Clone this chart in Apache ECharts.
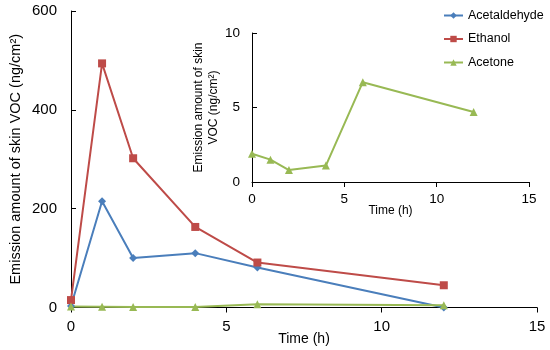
<!DOCTYPE html>
<html>
<head>
<meta charset="utf-8">
<script src="https://cdn.jsdelivr.net/npm/echarts@6/dist/echarts.min.js"></script>
<style>html,body{margin:0;padding:0;background:#fff}#c{width:550px;height:350px}</style>
</head>
<body>
<div id="c"></div>
<script>
var times = [0, 1, 2, 4, 6, 12];
var acetaldehyde = [3, 215, 100, 110, 81, 0];
var ethanol = [15, 494, 302, 163, 91, 45];
var acetone = [1.9, 1.5, 0.8, 1.1, 6.7, 4.7];
var seriesNames = ['Acetaldehyde', 'Ethanol', 'Acetone'];
var colors = ['#4A7EBB', '#BE4B48', '#98B954'];
var yName = 'Emission amount of skin VOC (ng/cm\u00B2)';
var yNameInset = 'Emission amount of skin\nVOC (ng/cm\u00B2)';
var xName = 'Time (h)';

function pairs(xs, ys) { return xs.map(function (x, i) { return [x, ys[i]]; }); }

var font = 'Arial, "Liberation Sans", sans-serif';
var axisLine = { show: true, lineStyle: { color: '#000', width: 1 } };

var chart = echarts.init(document.getElementById('c'));
chart.setOption({
  animation: false,
  textStyle: { fontFamily: font, color: '#000' },
  legend: {
    orient: 'vertical', left: 443, top: 9, padding: 0, itemWidth: 19, itemHeight: 8, itemGap: 10.5,
    textStyle: { fontSize: 12.5, color: '#000', fontFamily: font },
    data: seriesNames
  },
  grid: [
    { left: 71, right: 13, top: 11, bottom: 42.5, outerBoundsMode: 'none', containLabel: false },
    { left: 252, right: 21, top: 33, bottom: 168, outerBoundsMode: 'none', containLabel: false }
  ],
  xAxis: [
    { type: 'value', gridIndex: 0, min: 0, max: 15, interval: 5,
      name: xName, nameLocation: 'middle', nameGap: 25, nameMoveOverlap: false,
      nameTextStyle: { fontSize: 14, color: '#000' },
      axisLine: axisLine, axisTick: { show: true, length: 5, lineStyle: { color: '#000' } },
      axisLabel: { fontSize: 15, color: '#000', margin: 12 }, splitLine: { show: false } },
    { type: 'value', gridIndex: 1, min: 0, max: 15, interval: 5,
      name: xName, nameLocation: 'middle', nameGap: 23, nameMoveOverlap: false,
      nameTextStyle: { fontSize: 12, color: '#000' },
      axisLine: axisLine, axisTick: { show: true, length: 5, lineStyle: { color: '#000' } },
      axisLabel: { fontSize: 13.5, color: '#000', margin: 10 }, splitLine: { show: false } }
  ],
  yAxis: [
    { type: 'value', gridIndex: 0, min: 0, max: 600, interval: 200,
      name: yName, nameLocation: 'middle', nameGap: 48, nameMoveOverlap: false,
      nameTextStyle: { fontSize: 14.5, color: '#000' },
      axisLine: axisLine, axisTick: { show: true, inside: true, length: 5, lineStyle: { color: '#000' } },
      axisLabel: { fontSize: 15, color: '#000', margin: 14 }, splitLine: { show: false } },
    { type: 'value', gridIndex: 1, min: 0, max: 10, interval: 5,
      name: yNameInset, nameLocation: 'middle', nameGap: 31, nameMoveOverlap: false,
      nameTextStyle: { fontSize: 12, color: '#000', lineHeight: 15 },
      axisLine: axisLine, axisTick: { show: true, inside: true, length: 5, lineStyle: { color: '#000' } },
      axisLabel: { fontSize: 13.5, color: '#000', margin: 12 }, splitLine: { show: false } }
  ],
  series: [
    { name: seriesNames[0], type: 'line', xAxisIndex: 0, yAxisIndex: 0, data: pairs(times, acetaldehyde),
      symbol: 'diamond', symbolSize: 8, color: colors[0], lineStyle: { width: 2 } },
    { name: seriesNames[1], type: 'line', xAxisIndex: 0, yAxisIndex: 0, data: pairs(times, ethanol),
      symbol: 'rect', symbolSize: 8, color: colors[1], lineStyle: { width: 2 } },
    { name: seriesNames[2], type: 'line', xAxisIndex: 0, yAxisIndex: 0, data: pairs(times, acetone),
      symbol: 'triangle', symbolSize: 8, color: colors[2], lineStyle: { width: 2 } },
    { name: seriesNames[2], type: 'line', xAxisIndex: 1, yAxisIndex: 1, data: pairs(times, acetone),
      symbol: 'triangle', symbolSize: 8, color: colors[2], lineStyle: { width: 2 } }
  ]
});
</script>
</body>
</html>
